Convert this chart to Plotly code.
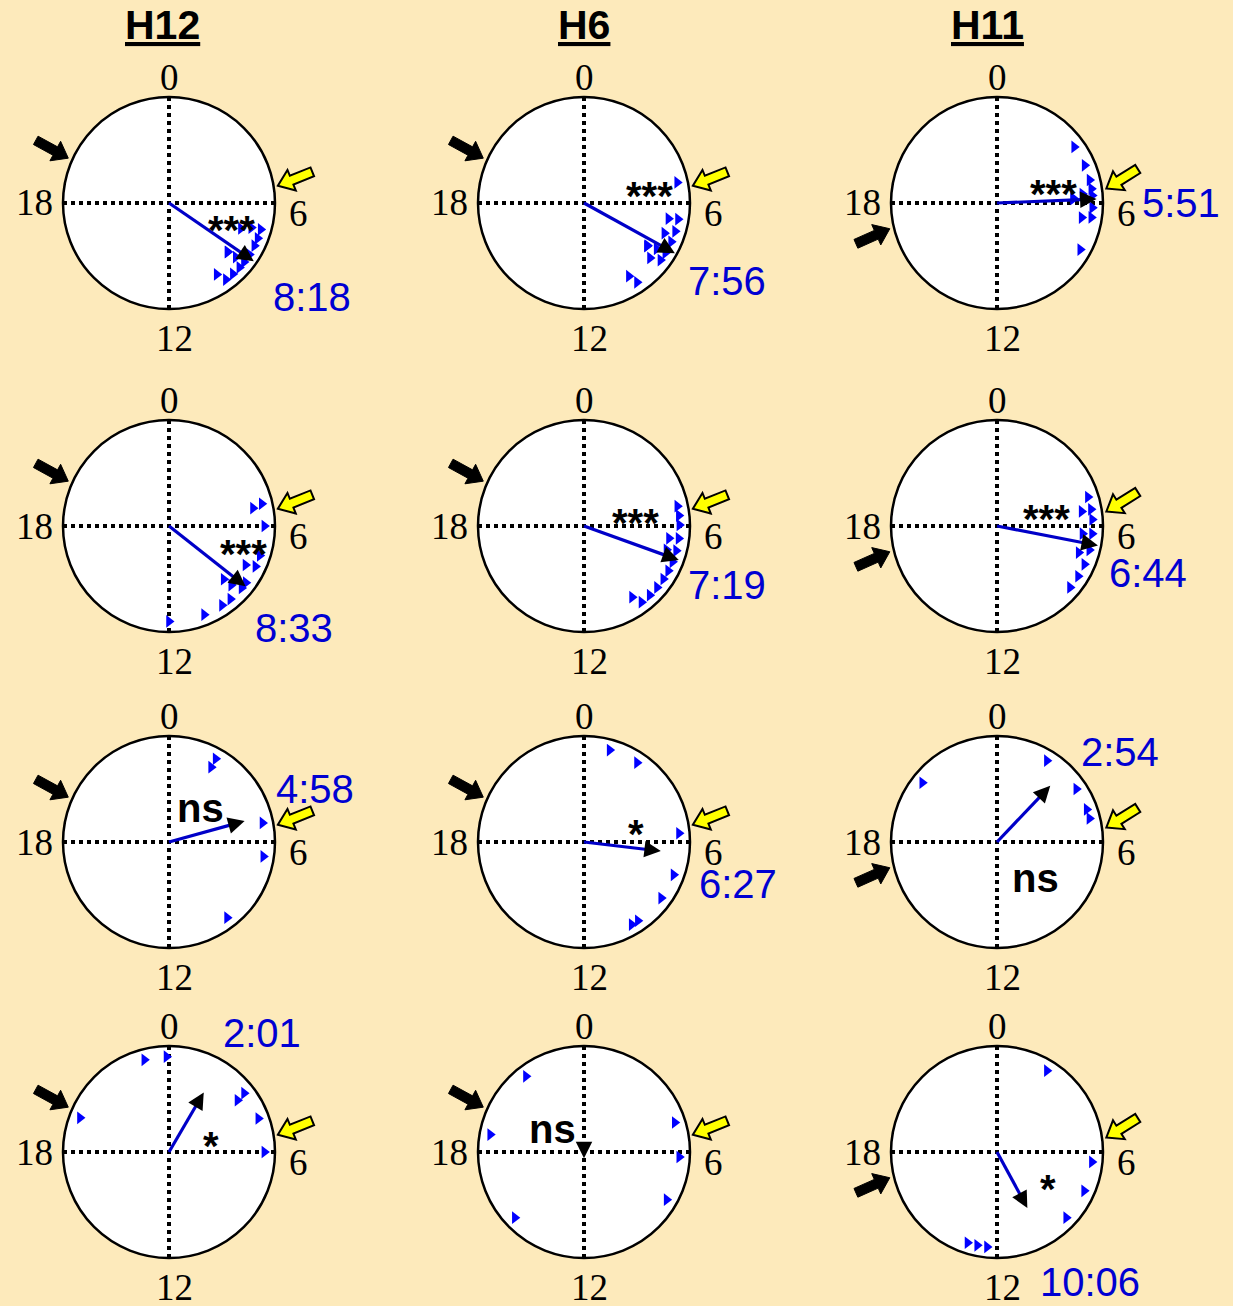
import numpy as np
import plotly.graph_objects as go

# ---------------- data ----------------
columns = ["H12", "H6", "H11"]

# individual phase markers (clock hours), one list per panel, row-major (4 rows x 3 columns)
phase_hours_p1 = [7.11, 7.07, 7.30, 7.45, 7.77, 8.18, 8.60, 8.65, 8.67, 8.55, 8.83, 9.20, 9.75, 9.56]
phase_hours_p2 = [5.17, 6.65, 6.70, 7.15, 7.37, 7.60, 8.10, 8.15, 8.26, 8.30, 8.45, 8.65, 9.75, 9.90]
phase_hours_p3 = [3.60, 4.45, 5.07, 5.43, 5.60, 5.70, 5.76, 5.80, 6.19, 6.58, 6.65, 7.95]
phase_hours_p4 = [5.10, 5.20, 6.00, 7.20, 7.67, 7.80, 8.43, 8.70, 8.90, 8.95, 9.33, 9.75, 10.56, 12.00]
phase_hours_p5 = [5.20, 5.58, 5.96, 6.55, 6.50, 7.00, 7.07, 7.47, 7.87, 8.25, 8.67, 9.10, 9.53, 9.73]
phase_hours_p6 = [4.82, 5.33, 5.35, 5.74, 6.34, 6.31, 6.97, 7.20, 7.58, 8.12, 8.67]
phase_hours_p7 = [1.95, 1.96, 5.23, 6.58, 9.50]
phase_hours_p8 = [1.04, 2.25, 5.65, 7.34, 8.40, 9.71, 10.00]
phase_hours_p9 = [20.56, 2.10, 3.75, 4.67, 5.05]
phase_hours_p10 = [23.00, 23.90, 3.46, 3.53, 4.63, 6.00, 19.40]
phase_hours_p11 = [21.50, 18.70, 4.80, 6.20, 8.00, 15.10]
phase_hours_p12 = [2.10, 6.40, 7.60, 8.90, 12.40, 12.80, 13.20]
phase_hours = [phase_hours_p1, phase_hours_p2, phase_hours_p3, phase_hours_p4,
               phase_hours_p5, phase_hours_p6, phase_hours_p7, phase_hours_p8,
               phase_hours_p9, phase_hours_p10, phase_hours_p11, phase_hours_p12]

mean_hours = [8.30, 7.93, 5.85, 8.55, 7.32, 6.73, 4.97, 6.45, 2.90, 2.02, 12.0, 10.10]
mean_lengths = [0.97, 0.98, 0.94, 0.92, 0.95, 0.97, 0.74, 0.73, 0.73, 0.65, 0.06, 0.60]
mean_labels = ["8:18", "7:56", "5:51", "8:33", "7:19", "6:44", "4:58", "6:27", "2:54", "2:01", "", "10:06"]
significance = ["***", "***", "***", "***", "***", "***", "ns", "*", "ns", "*", "ns", "*"]

lights_off_hour = [19.6, 19.6, 17.1]   # black arrows, per column
lights_on_hour = [5.4, 5.4, 5.5]       # yellow arrows, per column

clock_tick_labels = ["0", "6", "12", "18"]

# ---------------- layout constants ----------------
W, H = 1233, 1306
S = 106.0          # px per unit radius
HALF = 1.45        # axis half range (units)
col_cx = [169, 584, 997]
row_cy = [203, 526, 842, 1152]

BG = "rgb(253,234,187)"
BLUE_PT = "rgb(0,0,255)"
BLUE_LINE = "rgb(0,0,200)"
BLUE_TXT = "rgb(0,0,210)"
SERIF = "Liberation Serif"
SANS = "Liberation Sans"

tick_offsets = {"0": (0.0, 1.18), "6": (1.22, -0.10), "12": (0.05, -1.28), "18": (-1.27, 0.0)}
sig_pos = [(0.59, -0.16), (0.62, 0.16), (0.53, 0.18), (0.70, -0.17), (0.49, 0.12), (0.47, 0.16),
           (0.30, 0.32), (0.49, 0.17), (0.36, -0.34), (0.40, 0.15), (-0.30, 0.22), (0.48, -0.25)]
label_pos = [(1.35, -0.89), (1.35, -0.74), (1.74, 0.0), (1.18, -0.96), (1.35, -0.56), (1.42, -0.44),
             (1.38, 0.50), (1.45, -0.40), (1.16, 0.85), (0.88, 1.12), (0, 0), (0.88, -1.23)]
black_dir_deg = [-28.7, -28.7, 24.0]
yellow_dir_deg = [202.0, 202.0, 212.0]


def pol(h, r):
    th = np.deg2rad(np.asarray(h, dtype=float) * 15.0)
    return r * np.sin(th), r * np.cos(th)


def stack_radii(hours, base=0.90, step=0.09, gap=0.26, maxlev=2):
    hours = np.asarray(hours, dtype=float)
    order = np.argsort(hours)
    placed = []
    radii = np.zeros(len(hours))
    for idx in order:
        h = hours[idx]
        k = 0
        while k < maxlev and any(pk == k and abs(((h - ph + 12) % 24) - 12) < gap for ph, pk in placed):
            k += 1
        placed.append((h, k))
        radii[idx] = base - step * k
    return radii


def paper(ci, ri, ux, uy):
    return (col_cx[ci] + ux * S) / W, 1 - (row_cy[ri] - uy * S) / H


def block_arrow(tip, ang_deg, L=0.35, hl=0.14, hw=0.105, sw=0.045):
    d = np.array([np.cos(np.deg2rad(ang_deg)), np.sin(np.deg2rad(ang_deg))])
    n = np.array([-d[1], d[0]])
    T = np.array(tip)
    pts = [T, T - d * hl + n * hw, T - d * hl + n * sw, T - d * L + n * sw,
           T - d * L - n * sw, T - d * hl - n * sw, T - d * hl - n * hw]
    return "M " + " L ".join(f"{p[0]:.4f},{p[1]:.4f}" for p in pts) + " Z"


fig = go.Figure()
shapes = []
annotations = []
layout_axes = {}

for ri in range(4):
    for ci in range(3):
        i = ri * 3 + ci
        sfx = "" if i == 0 else str(i + 1)
        xr, yr = "x" + sfx, "y" + sfx
        cx, cy = col_cx[ci], row_cy[ri]
        layout_axes["xaxis" + sfx] = dict(domain=[(cx - HALF * S) / W, (cx + HALF * S) / W],
                                          range=[-HALF, HALF], visible=False, fixedrange=True)
        layout_axes["yaxis" + sfx] = dict(domain=[max(0.0, 1 - (cy + HALF * S) / H), 1 - (cy - HALF * S) / H],
                                          range=[-HALF, HALF], visible=False, fixedrange=True,
                                          scaleanchor=xr, scaleratio=1)

        # clock face
        shapes.append(dict(type="circle", xref=xr, yref=yr, x0=-1, y0=-1, x1=1, y1=1,
                           fillcolor="white", line=dict(color="black", width=2.5), layer="below"))
        shapes.append(dict(type="line", xref=xr, yref=yr, x0=-1, y0=0, x1=1, y1=0,
                           line=dict(color="black", width=4, dash="dot"), layer="below"))
        shapes.append(dict(type="line", xref=xr, yref=yr, x0=0, y0=-1, x1=0, y1=1,
                           line=dict(color="black", width=4, dash="dot"), layer="below"))

        # lights arrows
        bt = pol(lights_off_hour[ci], 1.04)
        shapes.append(dict(type="path", xref=xr, yref=yr, path=block_arrow(bt, black_dir_deg[ci]),
                           fillcolor="black", line=dict(color="black", width=1)))
        yt = pol(lights_on_hour[ci], 1.04)
        shapes.append(dict(type="path", xref=xr, yref=yr, path=block_arrow(yt, yellow_dir_deg[ci]),
                           fillcolor="rgb(255,255,0)", line=dict(color="black", width=2)))

        # individual phases
        hrs = phase_hours[i]
        rr = stack_radii(hrs)
        px, py = pol(hrs, rr)
        fig.add_trace(go.Scatter(x=px, y=py, mode="markers", xaxis=xr, yaxis=yr,
                                 marker=dict(symbol="triangle-right", size=11, color=BLUE_PT,
                                             line=dict(width=0)),
                                 showlegend=False, hoverinfo="skip"))

        # mean vector
        mh, ml = mean_hours[i], mean_lengths[i]
        tip = np.array(pol(mh, ml))
        d = np.array(pol(mh, 1.0))
        if ml > 0.15:
            base = tip - d * 0.09
            fig.add_trace(go.Scatter(x=[0, base[0]], y=[0, base[1]], mode="lines", xaxis=xr, yaxis=yr,
                                     line=dict(color=BLUE_LINE, width=3.2),
                                     showlegend=False, hoverinfo="skip"))
        tail = tip - d * 0.10
        annotations.append(dict(x=tip[0], y=tip[1], xref=xr, yref=yr, ax=tail[0], ay=tail[1],
                                axref=xr, ayref=yr, text="", showarrow=True, arrowhead=2,
                                arrowsize=1.1, arrowwidth=3, arrowcolor="black", standoff=0))

        # clock labels
        for lab in clock_tick_labels:
            ox, oy = tick_offsets[lab]
            pxp, pyp = paper(ci, ri, ox, oy)
            annotations.append(dict(x=pxp, y=pyp, xref="paper", yref="paper", text=lab,
                                    showarrow=False, xanchor="center", yanchor="middle",
                                    font=dict(family=SERIF, size=37, color="black")))

        # significance
        sx, sy = sig_pos[i]
        pxp, pyp = paper(ci, ri, sx, sy)
        annotations.append(dict(x=pxp, y=pyp, xref="paper", yref="paper",
                                text="<b>" + significance[i] + "</b>", showarrow=False,
                                xanchor="center", yanchor="middle",
                                yshift=-10 if "*" in significance[i] else 0,
                                font=dict(family=SANS, size=40, color="black")))

        # mean phase time
        if mean_labels[i]:
            lx, ly = label_pos[i]
            pxp, pyp = paper(ci, ri, lx, ly)
            annotations.append(dict(x=pxp, y=pyp, xref="paper", yref="paper", text=mean_labels[i],
                                    showarrow=False, xanchor="center", yanchor="middle",
                                    font=dict(family=SANS, size=40, color=BLUE_TXT)))

# column titles
title_x = [163, 584, 987]
for ci, name in enumerate(columns):
    annotations.append(dict(x=title_x[ci] / W, y=1 - 25 / H, xref="paper", yref="paper",
                            text="<b><u>" + name + "</u></b>", showarrow=False,
                            xanchor="center", yanchor="middle",
                            font=dict(family=SANS, size=41, color="black")))

fig.update_layout(width=W, height=H, margin=dict(l=0, r=0, t=0, b=0),
                  paper_bgcolor=BG, plot_bgcolor="rgba(0,0,0,0)",
                  shapes=shapes, annotations=annotations, showlegend=False, **layout_axes)

fig.write_html("out.html", config={"displayModeBar": False},
               post_script="document.body.style.margin='0px';document.body.style.overflow='hidden';")
